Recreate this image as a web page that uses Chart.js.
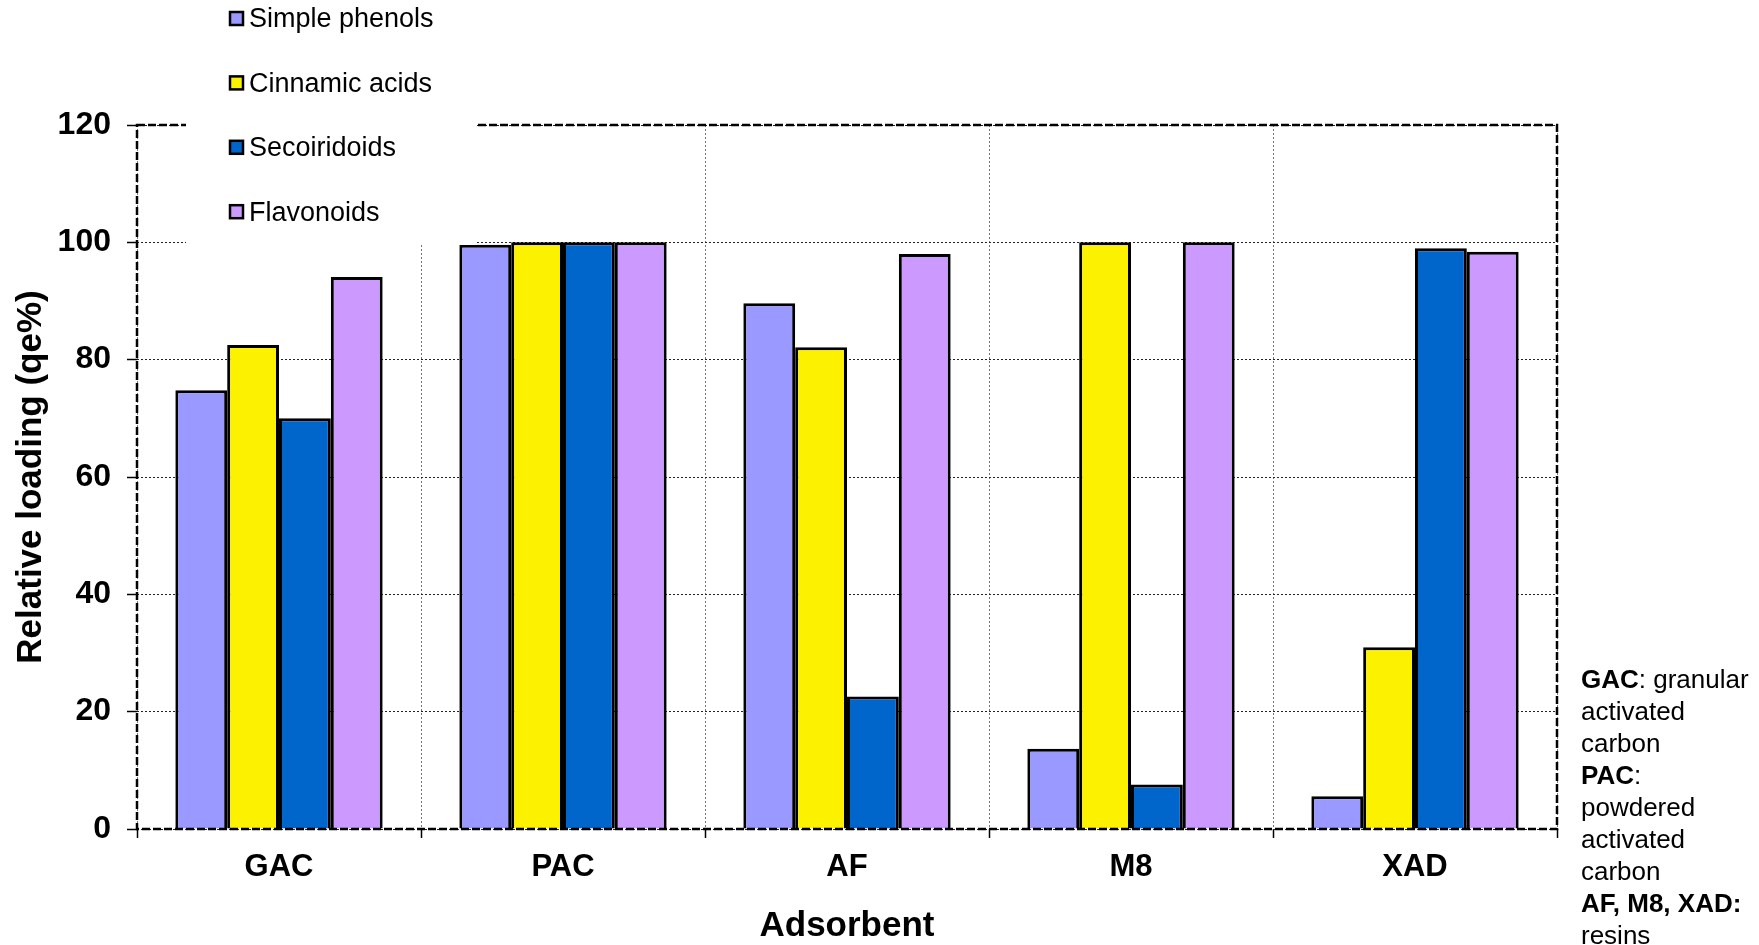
<!DOCTYPE html>
<html>
<head>
<meta charset="utf-8">
<script src="https://cdn.jsdelivr.net/npm/chart.js@4.4.1/dist/chart.umd.min.js"></script>
<style>
  body { margin: 0; background: #fff; font-family: Arial, "Liberation Sans", sans-serif; }
  #wrap { position: relative; width: 1759px; height: 945px; }
  #note { position: absolute; left: 1581px; top: 663px; font-size: 26px; line-height: 32px; color: #000; }
</style>
</head>
<body>
<div id="wrap">
  <canvas id="chart" width="1759" height="945"></canvas>
  <div id="note"><b>GAC</b>: granular<br>activated<br>carbon<br><b>PAC</b>:<br>powdered<br>activated<br>carbon<br><b>AF, M8, XAD:</b><br>resins</div>
</div>
<script>
// data (relative loading, qe%)
const adsorbents = ["GAC", "PAC", "AF", "M8", "XAD"];
const simplePhenols = [74.8, 99.6, 89.6, 13.7, 5.6];
const cinnamicAcids = [82.5, 100, 82.1, 100, 31.0];
const secoiridoids = [70.0, 100, 22.6, 7.6, 99.0];
const flavonoids = [94.1, 100, 98.0, 100, 98.4];
const yTicks = [0, 20, 40, 60, 80, 100, 120];

const FONT = 'Arial, "Liberation Sans", sans-serif';

// dashed frame round the plot + legend sitting in the top-left corner on white
const frameAndLegend = {
  id: 'frameAndLegend',
  afterDraw(chart) {
    const { ctx, chartArea: a } = chart;
    ctx.save();
    ctx.strokeStyle = '#000';
    ctx.lineWidth = 2.5;
    ctx.setLineDash([8, 3]);
    ctx.strokeRect(a.left, a.top, a.right - a.left, a.bottom - a.top);
    ctx.setLineDash([]);

    ctx.fillStyle = '#fff';
    ctx.fillRect(186, 0, 291, 245);

    ctx.font = '27px ' + FONT;
    ctx.textBaseline = 'middle';
    chart.data.datasets.forEach((ds, i) => {
      const cy = 19 + i * 64.4;
      ctx.fillStyle = ds.backgroundColor;
      ctx.fillRect(230, cy - 7, 13, 13);
      ctx.lineWidth = 2.5;
      ctx.strokeStyle = '#000';
      ctx.strokeRect(230, cy - 7, 13, 13);
      ctx.fillStyle = '#000';
      ctx.fillText(ds.label, 249, cy + 1);
    });
    ctx.restore();
  }
};

const barStyle = { borderColor: '#000', borderWidth: 3, categoryPercentage: 0.73, barPercentage: 1.0 };

new Chart(document.getElementById('chart'), {
  type: 'bar',
  data: {
    labels: adsorbents,
    datasets: [
      { label: 'Simple phenols', data: simplePhenols, backgroundColor: '#9999FF', ...barStyle },
      { label: 'Cinnamic acids', data: cinnamicAcids, backgroundColor: '#FCF200', ...barStyle },
      { label: 'Secoiridoids', data: secoiridoids, backgroundColor: '#0066CC', ...barStyle },
      { label: 'Flavonoids', data: flavonoids, backgroundColor: '#CC99FF', ...barStyle }
    ]
  },
  options: {
    responsive: false,
    animation: false,
    layout: { padding: { top: 125, right: 202, left: 0, bottom: 0 } },
    plugins: { legend: { display: false }, tooltip: { enabled: false } },
    scales: {
      x: {
        offset: true,
        grid: {
          offset: true,
          color: '#777',
          lineWidth: 1,
          tickLength: 9,
          tickColor: '#000',
          tickWidth: 1.5,
          tickBorderDash: []
        },
        border: { display: false, dash: [2, 2] },
        ticks: { color: '#000', padding: 11, font: { family: FONT, size: 31, weight: 'bold', lineHeight: 1.2 } },
        title: {
          display: true,
          text: 'Adsorbent',
          color: '#000',
          font: { family: FONT, size: 35, weight: 'bold', lineHeight: 1 },
          padding: { top: 0, bottom: 1 }
        },
        afterFit: s => { s.height = 116; }
      },
      y: {
        min: 0,
        max: 120,
        afterBuildTicks: s => { s.ticks = yTicks.map(v => ({ value: v })); },
        grid: {
          color: '#222',
          lineWidth: 1,
          tickLength: 10,
          tickColor: '#000',
          tickWidth: 1.5,
          tickBorderDash: []
        },
        border: { display: false, dash: [2, 2] },
        ticks: { color: '#000', padding: 16, font: { family: FONT, size: 32, weight: 'bold' } },
        title: {
          display: true,
          text: 'Relative loading (qe%)',
          color: '#000',
          font: { family: FONT, size: 35, weight: 'bold', lineHeight: 1.2 },
          padding: { top: 10.5, bottom: 0 }
        },
        afterFit: s => { s.width = 137; }
      }
    }
  },
  plugins: [frameAndLegend]
});
</script>
</body>
</html>
